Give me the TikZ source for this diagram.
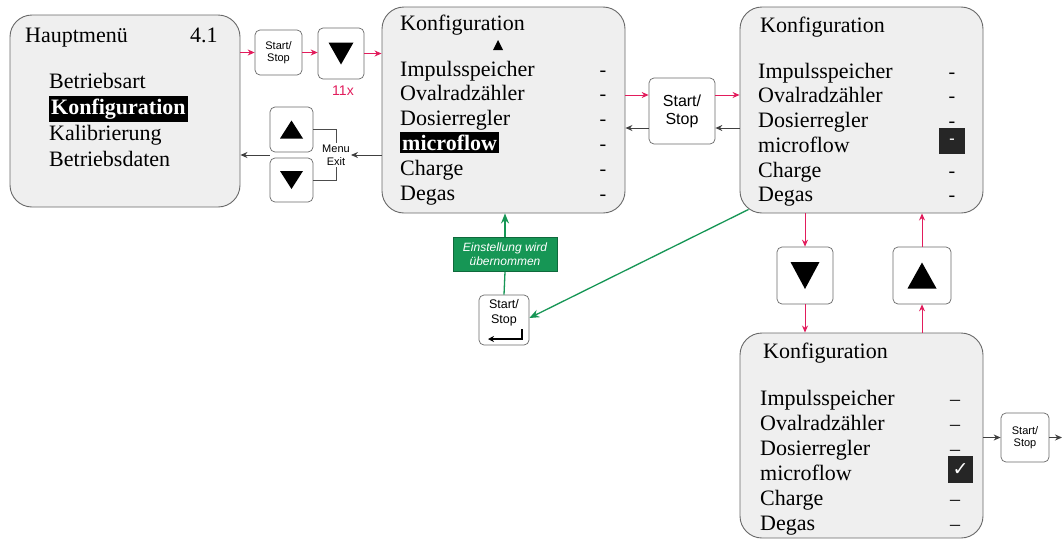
\documentclass[tikz,border=0pt]{standalone}
\usepackage{fontspec}
\setmainfont{Liberation Serif}
\setsansfont{Liberation Sans}
\newfontfamily\symfont{DejaVu Sans}
\usetikzlibrary{calc,arrows.meta}
\definecolor{menured}{RGB}{226,28,92}
\definecolor{mgreen}{RGB}{22,150,85}
\definecolor{panelfill}{RGB}{239,239,239}
\definecolor{bordergray}{RGB}{105,105,105}
\tikzset{
  panel/.style={draw=bordergray, line width=0.9pt, fill=panelfill, rounded corners=22pt, inner sep=0pt},
  btn/.style={draw=bordergray, line width=0.7pt, fill=white, rounded corners=5pt, inner sep=0pt, font=\sffamily\fontsize{11}{12.5}\selectfont, align=center},
  itm/.style={anchor=base west, inner sep=0pt, font=\fontsize{22}{25}\selectfont},
  hl/.style={itm, fill=black, text=white, font=\bfseries\fontsize{22}{25}\selectfont, inner xsep=2pt, inner ysep=3pt},
  dsh/.style={anchor=base, inner sep=0pt, font=\fontsize{20}{25}\selectfont},
  redarr/.style={draw=menured, line width=1pt, -{Stealth[length=7pt,width=6pt]}},
  blkarr/.style={draw=black!75, line width=1pt, -{Stealth[length=7pt,width=6pt]}},
  grnarr/.style={draw=mgreen, line width=1.3pt, -{Stealth[length=10pt,width=8pt]}},
  grnline/.style={draw=mgreen, line width=1.3pt},
}
\newcommand{\dntri}[3]{\fill ($(#1)+(-#2,-#3)$) -- ($(#1)+(#2,-#3)$) -- ($(#1)+(0,#3)$) -- cycle;}
\newcommand{\uptri}[3]{\fill ($(#1)+(-#2,#3)$) -- ($(#1)+(#2,#3)$) -- ($(#1)+(0,-#3)$) -- cycle;}
\begin{document}
\begin{tikzpicture}[x=1pt,y=-1pt]
\useasboundingbox (0,0) rectangle (1062,541);
\fill[white] (0,0) rectangle (1062,541);

% panels
\node[panel, minimum width=230pt, minimum height=192pt] (p1) at (125,111) {};
\node[panel, minimum width=243pt, minimum height=206pt] (p2) at (503.5,110) {};
\node[panel, minimum width=243pt, minimum height=206pt] (p3) at (861.5,110) {};
\node[panel, minimum width=243pt, minimum height=205pt] (p4) at (861.5,435.5) {};

% panel 1 text
\node[itm] (h1) at (25,42) {Hauptmenü};
\node[itm] (h1v) at (190,42) {4.1};
\node[itm] (a1) at (49,88) {Betriebsart};
\node[hl] (a2) at (49,114) {Konfiguration};
\node[itm] (a3) at (49,140) {Kalibrierung};
\node[itm] (a4) at (49,166) {Betriebsdaten};

% panel 2 text
\node[itm] (t2) at (400,30) {Konfiguration};
\coordinate (tri2) at (498,45);
\uptri{tri2}{5}{5}
\node[itm] (b1) at (400,76) {Impulsspeicher};
\node[itm] (b2) at (400,100) {Ovalradzähler};
\node[itm] (b3) at (400,125) {Dosierregler};
\node[hl] (b4) at (400,150) {microflow};
\node[itm] (b5) at (400,175) {Charge};
\node[itm] (b6) at (400,200) {Degas};
\foreach \y [count=\i] in {76,100,125,150,175,200} \node[dsh] (bd\i) at (603,\y) {-};

% panel 3 text
\node[itm] (t3) at (760,32) {Konfiguration};
\node[itm] (c1) at (758,78) {Impulsspeicher};
\node[itm] (c2) at (758,102) {Ovalradzähler};
\node[itm] (c3) at (758,127) {Dosierregler};
\node[itm] (c4) at (758,152) {microflow};
\node[itm] (c5) at (758,177) {Charge};
\node[itm] (c6) at (758,201) {Degas};
\foreach \y [count=\i] in {78,102,127,177,201} \node[dsh] (cd\i) at (952,\y) {-};
\node[fill=black!85, minimum width=26pt, minimum height=26pt, inner sep=0pt, text=white, font=\bfseries\fontsize{16}{16}\selectfont] (csel) at (952,141) {-};

% panel 4 text
\node[itm] (t4) at (763,358) {Konfiguration};
\node[itm] (d1) at (760,405) {Impulsspeicher};
\node[itm] (d2) at (760,430) {Ovalradzähler};
\node[itm] (d3) at (760,455) {Dosierregler};
\node[itm] (d4) at (760,480) {microflow};
\node[itm] (d5) at (760,505) {Charge};
\node[itm] (d6) at (760,530) {Degas};
\foreach \y [count=\i] in {405,430,455,505,530} \node[dsh] (dd\i) at (955,\y) {--};
\node[fill=black!85, minimum width=25pt, minimum height=27pt, inner sep=0pt, text=white, font=\symfont\fontsize{19}{19}\selectfont] (dsel) at (960.5,469.5) {✓};

% buttons
\node[btn, minimum width=47pt, minimum height=45pt] (ss1) at (278.5,52.5) {Start/\\Stop};
\node[btn, minimum width=46pt, minimum height=51pt] (dn1) at (341,53.5) {};
\dntri{dn1}{12.5}{11}
\node[text=menured, font=\sffamily\fontsize{14}{14}\selectfont, inner sep=0pt] (n11) at (343,91) {11x};
\node[btn, minimum width=43pt, minimum height=45pt] (up2) at (291.5,129.5) {};
\uptri{up2}{11.5}{9}
\node[btn, minimum width=43pt, minimum height=44pt] (dn2) at (291.5,180) {};
\dntri{dn2}{11.5}{9}
\node[font=\sffamily\fontsize{11}{13}\selectfont, align=center, inner sep=1pt] (menu) at (336,155) {Menu\\Exit};
\draw[black!70, line width=0.6pt] (up2.east) -- (up2.east -| menu.north) -- (menu.north);
\draw[black!70, line width=0.6pt] (dn2.east) -- (dn2.east -| menu.south) -- (menu.south);

\node[btn, minimum width=66pt, minimum height=66pt, font=\sffamily\fontsize{16}{18}\selectfont] (ss2) at (682,111) {Start/\\Stop};
\node[btn, minimum width=56pt, minimum height=57pt] (dn3) at (805,275.5) {};
\dntri{dn3}{14.5}{13.5}
\node[btn, minimum width=58pt, minimum height=57pt] (up3) at (922,275.5) {};
\uptri{up3}{14.5}{13}
\node[btn, minimum width=48pt, minimum height=49pt] (ss4) at (1025,437.5) {Start/\\Stop};
\node[btn, minimum width=50pt, minimum height=50pt] (ssE) at (504,320) {};
\node[font=\sffamily\fontsize{12.5}{14.5}\selectfont, align=center, inner sep=0pt] (ssEt) at (504,313) {Start/\\Stop};
\draw[line width=1.4pt, -{Stealth[length=6pt,width=6pt]}] ($(ssE)+(18,9)$) -- ($(ssE)+(18,19)$) -- ($(ssE)+(-16,19)$);

% green label
\node[fill=mgreen, draw=mgreen!70!black, line width=0.5pt, minimum width=104pt, minimum height=34pt, inner sep=0pt, text=white, align=center, font=\sffamily\itshape\fontsize{12}{14}\selectfont] (gb) at (505,254.5) {Einstellung wird\\übernommen};

% red connectors
\draw[redarr] (p1.east |- ss1.west) -- (ss1.west);
\draw[redarr] (ss1.east) -- (ss1.east -| dn1.west);
\draw[redarr] (dn1.east) -- (dn1.east -| p2.west);
\coordinate (r2) at ([yshift=16pt]ss2.west);
\coordinate (r3) at ([yshift=16pt]ss2.east);
\draw[redarr] (r2 -| p2.east) -- (r2);
\draw[redarr] (r3) -- (r3 -| p3.west);
\draw[redarr] (dn3.north |- p3.south) -- (dn3.north);
\draw[redarr] (dn3.south) -- (dn3.south |- p4.north);
\draw[redarr] (up3.south |- p4.north) -- (up3.south);
\draw[redarr] (up3.north) -- (up3.north |- p3.south);

% black connectors
\coordinate (k2) at ([yshift=-17pt]ss2.west);
\coordinate (k3) at ([yshift=-17pt]ss2.east);
\draw[blkarr] (k3 -| p3.west) -- (k3);
\draw[blkarr] (k2) -- (k2 -| p2.east);
\draw[blkarr] (menu.east -| p2.west) -- (menu.east);
\coordinate (mx) at (up2.west |- menu.east);
\draw[blkarr] (mx) -- (mx -| p1.east);
\coordinate (out4) at (1062,437.5);
\draw[blkarr] (p4.east |- ss4.west) -- (ss4.west);
\draw[blkarr] (ss4.east) -- (out4);

% green connectors
\draw[grnline] (ssE.north) -- (gb.south);
\draw[grnarr] (gb.north) -- (gb.north |- p2.south);
\coordinate (gstart) at ([shift={(9pt,4pt)}]p3.south west);
\draw[grnarr] (gstart) -- ([yshift=2pt]ssE.east);
\end{tikzpicture}
\end{document}
